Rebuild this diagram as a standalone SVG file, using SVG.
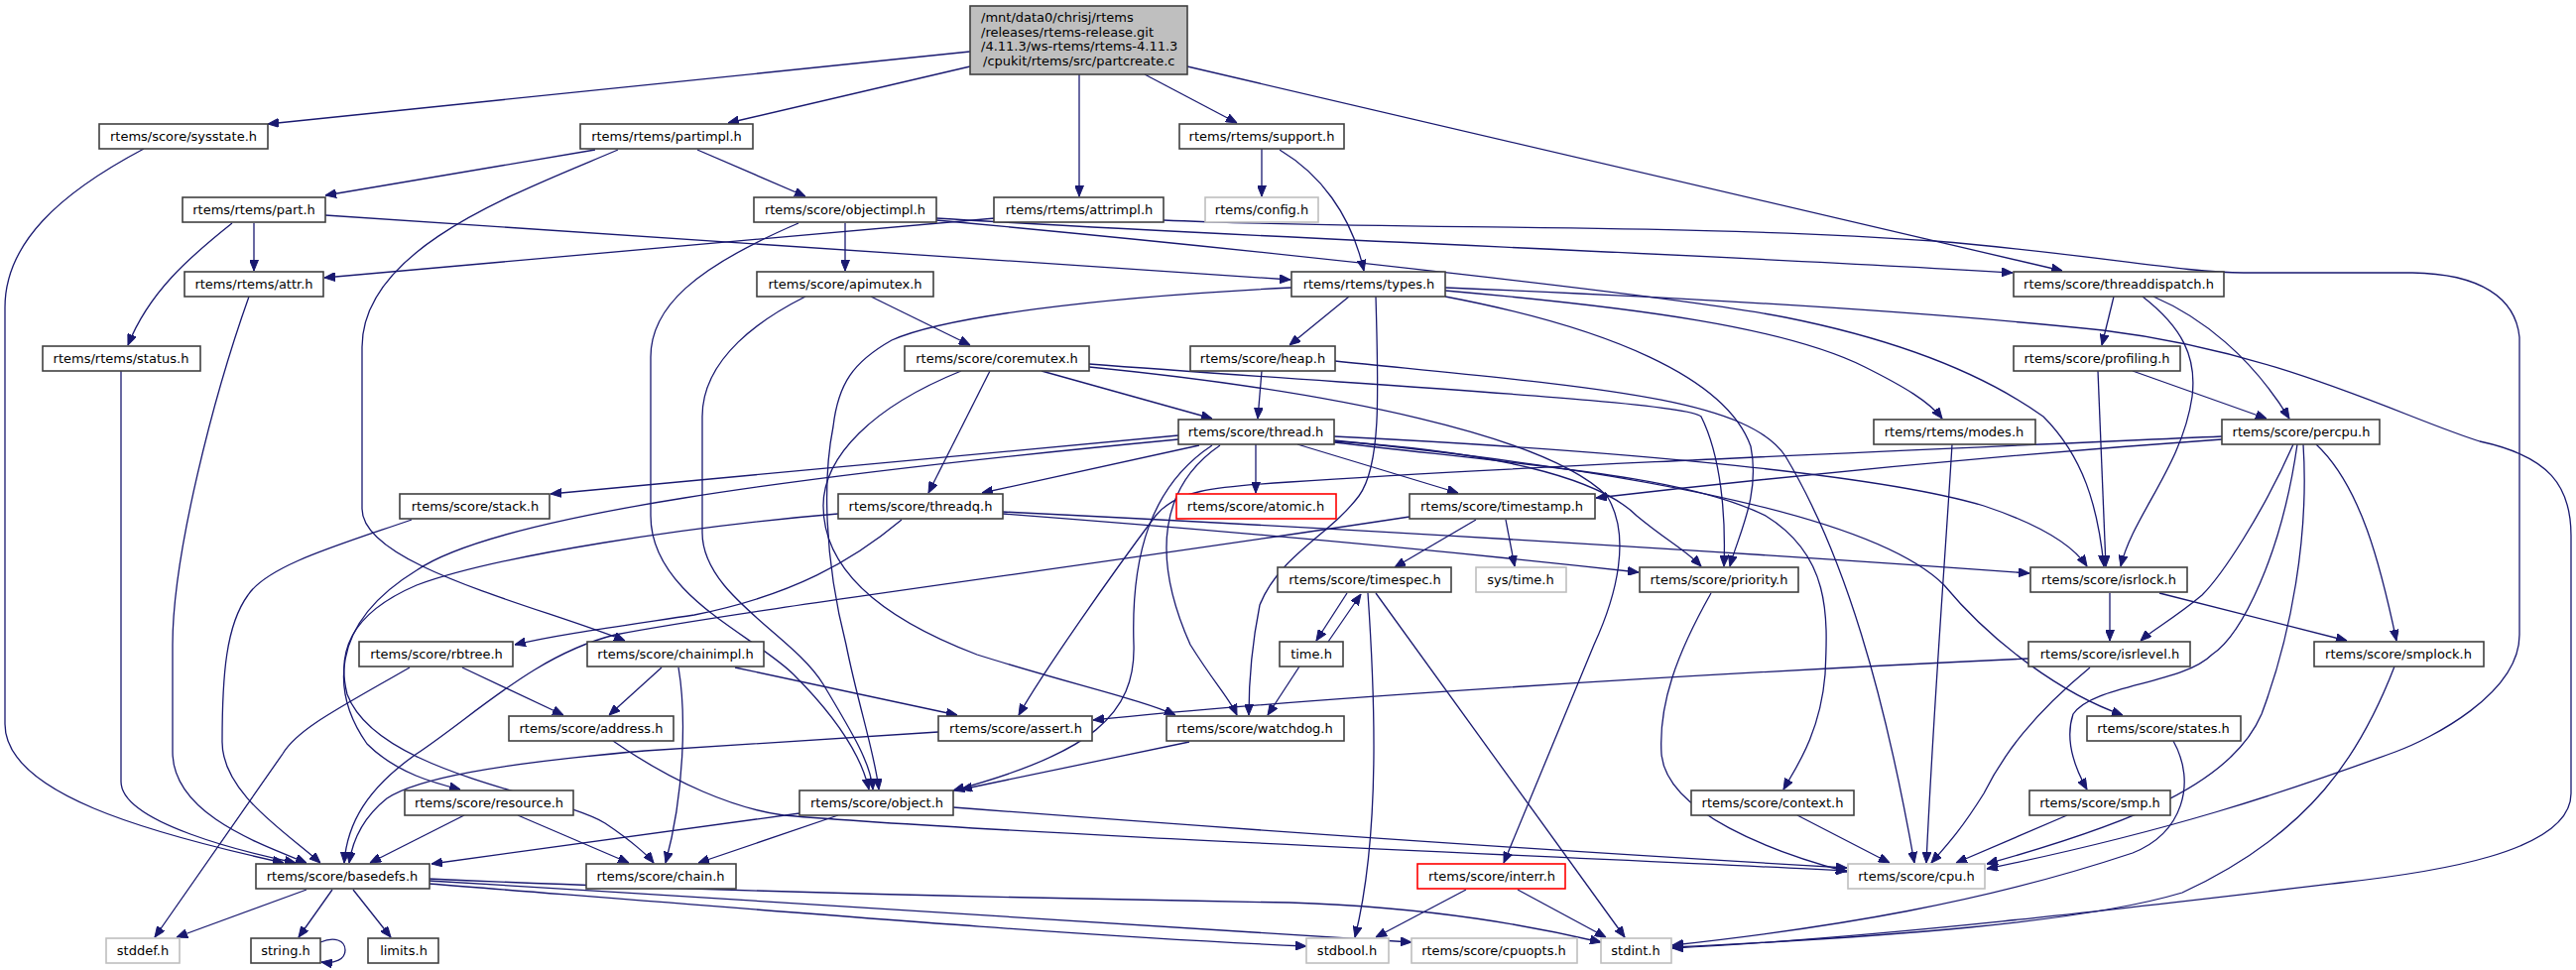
<svg xmlns="http://www.w3.org/2000/svg" width="2597" height="978" viewBox="0 0 2597 978">
<style>
.b{fill:#fff;stroke:#404040;stroke-width:1.6}
.g{fill:#fff;stroke:#bfbfbf;stroke-width:1.6}
.r{fill:#fff;stroke:#ff0000;stroke-width:1.6}
.root{fill:#bfbfbf;stroke:#404040;stroke-width:1.6}
text{font-family:"DejaVu Sans","Liberation Sans",sans-serif;font-size:13px;fill:#000;text-anchor:middle}
.l{text-anchor:start}
#edges path{fill:none;stroke:#191970;stroke-width:1.3;marker-end:url(#ah)}
</style>
<defs>
<marker id="ah" viewBox="0 0 11 9" refX="11" refY="4.5" markerWidth="11" markerHeight="9" markerUnits="userSpaceOnUse" orient="auto">
<path d="M0,0 L11,4.5 L0,9 z" fill="#191970" stroke="#191970" stroke-width="1"/>
</marker>
</defs>
<rect width="2597" height="978" fill="#fff"/>
<g id="edges">
<path d="M978,52 L270,125"/>
<path d="M978,67 L734,124"/>
<path d="M1088,75 L1088,198"/>
<path d="M1154,75 L1247,124"/>
<path d="M1197,67 L2079,273"/>
<path d="M145,150 C60,195 5,245 5,310 L5,730 C5,800 150,840 286,870"/>
<path d="M600,151 L328,197"/>
<path d="M623,151 C520,195 365,250 365,350 L365,513 C365,570 540,610 630,646"/>
<path d="M703,151 L812,198"/>
<path d="M256,225 L256,273"/>
<path d="M234,225 C190,260 150,295 129,348"/>
<path d="M328,217 L1301,282"/>
<path d="M1003,220 L327,280"/>
<path d="M1173,222 C1400,232 1700,225 1950,243 C2100,255 2200,275 2262,275 L2432,275 C2500,276 2536,300 2540,340 L2540,640 C2540,700 2450,745 2415,758 C2300,800 2187,838 2003,876"/>
<path d="M1272,150 L1272,198"/>
<path d="M1290,151 C1330,175 1362,215 1375,273"/>
<path d="M805,225 C700,270 656,310 656,360 L656,520 C656,600 760,640 800,680 C840,720 868,760 876,796"/>
<path d="M852,225 L852,273"/>
<path d="M944,220 C1300,242 1700,255 2029,275"/>
<path d="M944,222 C1300,255 1700,300 1800,320 C1900,340 1990,370 2060,420 C2100,460 2115,510 2121,571"/>
<path d="M251,299 C215,400 174,560 174,650 L174,758 C174,820 260,850 309,870"/>
<path d="M122,374 L122,788 C122,830 250,860 298,870"/>
<path d="M878,299 L978,348"/>
<path d="M812,299 C770,320 708,360 708,420 L708,537 C708,600 800,640 830,690 C860,740 878,770 880,796"/>
<path d="M1360,299 L1300,348"/>
<path d="M1302,290 C1100,300 950,320 899,343 C860,365 845,387 840,430 C830,480 830,560 853,650 C865,710 882,760 886,796"/>
<path d="M1387,299 C1390,400 1392,470 1370,500 C1340,540 1290,560 1270,610 C1262,650 1259,690 1259,721"/>
<path d="M1457,293 C1650,310 1800,330 1880,370 C1920,390 1945,405 1958,422"/>
<path d="M1457,299 C1620,330 1740,380 1765,450 C1775,500 1752,540 1744,571"/>
<path d="M1457,290 C1700,300 1950,315 2120,333 C2300,355 2420,420 2500,445 C2570,460 2592,490 2592,540 L2592,800 C2592,860 2450,880 2360,890 C2150,915 1900,945 1686,956"/>
<path d="M1050,374 L1222,422"/>
<path d="M998,374 L936,497"/>
<path d="M1098,367 C1400,390 1700,405 1715,420 C1735,460 1740,520 1738,571"/>
<path d="M1098,370 C1350,395 1560,440 1620,500 C1645,540 1630,600 1607,650 L1516,870"/>
<path d="M969,374 C880,410 830,460 830,510 C830,570 880,620 985,660 C1080,690 1150,705 1185,721"/>
<path d="M1272,374 L1268,422"/>
<path d="M1346,364 C1600,390 1760,400 1800,460 C1860,560 1900,700 1930,870"/>
<path d="M1188,439 L555,498"/>
<path d="M1188,443 C800,480 500,520 420,575 C330,630 335,700 370,750 C400,780 440,790 464,796"/>
<path d="M1209,449 L990,497"/>
<path d="M1266,448 L1266,497"/>
<path d="M1308,448 L1470,497"/>
<path d="M1345,445 C1500,455 1610,480 1650,520 C1680,545 1700,555 1715,571"/>
<path d="M1345,446 C1550,470 1700,480 1780,520 C1845,560 1843,620 1840,680 C1835,740 1810,775 1798,796"/>
<path d="M1222,449 C1160,490 1140,560 1143,650 C1145,720 1100,760 961,797"/>
<path d="M1230,449 C1170,490 1160,560 1200,650 C1225,690 1240,705 1247,721"/>
<path d="M1345,440 C1650,455 1900,480 2000,510 C2060,530 2090,550 2104,571"/>
<path d="M1345,444 C1700,480 1900,530 1960,590 C2010,650 2080,700 2140,721"/>
<path d="M909,524 C860,565 800,600 700,620 C620,632 560,640 519,650"/>
<path d="M845,518 C700,530 500,560 420,590 C350,620 340,660 350,700 C380,780 560,800 610,830 C640,850 655,865 659,870"/>
<path d="M1011,518 C1300,540 1500,560 1652,577"/>
<path d="M1011,516 C1400,535 1800,560 2046,578"/>
<path d="M1488,524 L1406,572"/>
<path d="M1518,524 L1527,571"/>
<path d="M1421,521 C1100,570 750,615 620,640 C540,660 480,720 420,760 C370,795 350,830 347,870"/>
<path d="M1358,598 L1327,646"/>
<path d="M1339,647 L1372,599"/>
<path d="M1379,598 C1386,700 1392,840 1366,945"/>
<path d="M1387,598 L1638,945"/>
<path d="M1310,672 L1278,721"/>
<path d="M1725,598 C1690,660 1672,710 1675,760 C1680,820 1790,860 1862,879"/>
<path d="M1968,448 C1962,550 1950,700 1942,870"/>
<path d="M2131,299 L2119,348"/>
<path d="M2171,299 C2220,320 2270,360 2308,422"/>
<path d="M2160,299 C2200,330 2215,360 2210,400 C2200,470 2150,520 2138,571"/>
<path d="M2150,374 L2285,422"/>
<path d="M2115,374 L2123,571"/>
<path d="M2240,443 C2000,460 1800,480 1609,502"/>
<path d="M2240,440 C1900,455 1500,472 1300,486 C1220,491 1185,495 1165,520 C1120,580 1050,680 1027,721"/>
<path d="M2312,448 C2280,520 2240,580 2220,600 C2190,625 2170,635 2158,646"/>
<path d="M2316,448 C2300,560 2260,640 2230,660 C2200,690 2110,690 2090,720 C2080,750 2095,780 2104,796"/>
<path d="M2322,448 C2328,540 2310,640 2280,720 C2250,790 2150,830 2003,871"/>
<path d="M2335,448 C2380,490 2400,570 2416,646"/>
<path d="M2127,598 L2127,646"/>
<path d="M2177,598 L2366,646"/>
<path d="M2045,664 C1700,680 1300,705 1102,726"/>
<path d="M2107,673 C2050,720 2020,760 2000,800 C1975,840 1960,855 1947,870"/>
<path d="M2414,672 C2380,760 2330,840 2200,900 C2100,930 1900,945 1686,955"/>
<path d="M2191,747 C2215,790 2200,840 2150,860 C2000,910 1850,935 1686,953"/>
<path d="M2084,822 L1972,870"/>
<path d="M1812,822 L1905,870"/>
<path d="M466,673 L568,721"/>
<path d="M413,673 C340,715 300,735 285,760 L156,945"/>
<path d="M667,673 L614,721"/>
<path d="M684,673 C692,720 690,800 671,870"/>
<path d="M741,673 L965,721"/>
<path d="M618,747 C680,790 740,815 790,822 C1000,840 1600,865 1862,878"/>
<path d="M946,738 L650,757 C500,770 420,785 390,805 C365,825 355,850 352,870"/>
<path d="M1199,748 L969,796"/>
<path d="M468,822 L373,870"/>
<path d="M522,822 L634,870"/>
<path d="M806,820 L435,871"/>
<path d="M845,822 L704,870"/>
<path d="M961,814 C1300,840 1600,860 1862,875"/>
<path d="M1478,897 L1387,945"/>
<path d="M1530,897 L1619,945"/>
<path d="M415,524 C340,550 270,570 250,600 C228,630 224,680 224,748 C224,800 290,840 323,870"/>
<path d="M309,897 L178,945"/>
<path d="M335,897 L301,945"/>
<path d="M356,897 L394,945"/>
<path d="M432,891 C800,920 1100,945 1317,954"/>
<path d="M432,888 C800,910 1200,935 1423,950"/>
<path d="M432,886 C700,898 1000,905 1300,910 C1450,915 1550,935 1614,950"/>
<path d="M323,950 C337,944 348,948 348,958 C348,967 338,972 324,970"/>
</g>
<g id="n_root"><rect class="root" x="978" y="6" width="219" height="69"/><text class="l" x="989" y="22">/mnt/data0/chrisj/rtems</text><text class="l" x="989" y="37">/releases/rtems-release.git</text><text class="l" x="989" y="51">/4.11.3/ws-rtems/rtems-4.11.3</text><text class="l" x="991" y="66">/cpukit/rtems/src/partcreate.c</text></g>
<g id="n_sysstate"><rect class="b" x="100" y="125" width="170" height="25"/><text x="185" y="142">rtems/score/sysstate.h</text></g>
<g id="n_partimpl"><rect class="b" x="585" y="125" width="174" height="25"/><text x="672" y="142">rtems/rtems/partimpl.h</text></g>
<g id="n_support"><rect class="b" x="1189" y="125" width="166" height="25"/><text x="1272" y="142">rtems/rtems/support.h</text></g>
<g id="n_part"><rect class="b" x="184" y="199" width="144" height="25"/><text x="256" y="216">rtems/rtems/part.h</text></g>
<g id="n_objectimpl"><rect class="b" x="760" y="199" width="184" height="25"/><text x="852" y="216">rtems/score/objectimpl.h</text></g>
<g id="n_attrimpl"><rect class="b" x="1002" y="199" width="171" height="25"/><text x="1088" y="216">rtems/rtems/attrimpl.h</text></g>
<g id="n_config"><rect class="g" x="1215" y="199" width="114" height="25"/><text x="1272" y="216">rtems/config.h</text></g>
<g id="n_attr"><rect class="b" x="186" y="274" width="140" height="25"/><text x="256" y="291">rtems/rtems/attr.h</text></g>
<g id="n_apimutex"><rect class="b" x="763" y="274" width="178" height="25"/><text x="852" y="291">rtems/score/apimutex.h</text></g>
<g id="n_types"><rect class="b" x="1302" y="274" width="155" height="25"/><text x="1380" y="291">rtems/rtems/types.h</text></g>
<g id="n_threaddispatch"><rect class="b" x="2030" y="274" width="212" height="25"/><text x="2136" y="291">rtems/score/threaddispatch.h</text></g>
<g id="n_status"><rect class="b" x="43" y="349" width="159" height="25"/><text x="122" y="366">rtems/rtems/status.h</text></g>
<g id="n_coremutex"><rect class="b" x="912" y="349" width="186" height="25"/><text x="1005" y="366">rtems/score/coremutex.h</text></g>
<g id="n_heap"><rect class="b" x="1200" y="349" width="146" height="25"/><text x="1273" y="366">rtems/score/heap.h</text></g>
<g id="n_profiling"><rect class="b" x="2030" y="349" width="168" height="25"/><text x="2114" y="366">rtems/score/profiling.h</text></g>
<g id="n_thread"><rect class="b" x="1188" y="423" width="157" height="25"/><text x="1266" y="440">rtems/score/thread.h</text></g>
<g id="n_modes"><rect class="b" x="1889" y="423" width="163" height="25"/><text x="1970" y="440">rtems/rtems/modes.h</text></g>
<g id="n_percpu"><rect class="b" x="2240" y="423" width="159" height="25"/><text x="2320" y="440">rtems/score/percpu.h</text></g>
<g id="n_stack"><rect class="b" x="403" y="498" width="151" height="25"/><text x="479" y="515">rtems/score/stack.h</text></g>
<g id="n_threadq"><rect class="b" x="845" y="498" width="166" height="25"/><text x="928" y="515">rtems/score/threadq.h</text></g>
<g id="n_atomic"><rect class="r" x="1186" y="498" width="161" height="25"/><text x="1266" y="515">rtems/score/atomic.h</text></g>
<g id="n_timestamp"><rect class="b" x="1421" y="498" width="187" height="25"/><text x="1514" y="515">rtems/score/timestamp.h</text></g>
<g id="n_timespec"><rect class="b" x="1288" y="572" width="175" height="25"/><text x="1376" y="589">rtems/score/timespec.h</text></g>
<g id="n_systime"><rect class="g" x="1488" y="572" width="91" height="25"/><text x="1533" y="589">sys/time.h</text></g>
<g id="n_priority"><rect class="b" x="1653" y="572" width="160" height="25"/><text x="1733" y="589">rtems/score/priority.h</text></g>
<g id="n_isrlock"><rect class="b" x="2047" y="572" width="158" height="25"/><text x="2126" y="589">rtems/score/isrlock.h</text></g>
<g id="n_rbtree"><rect class="b" x="362" y="647" width="155" height="25"/><text x="440" y="664">rtems/score/rbtree.h</text></g>
<g id="n_chainimpl"><rect class="b" x="592" y="647" width="178" height="25"/><text x="681" y="664">rtems/score/chainimpl.h</text></g>
<g id="n_time"><rect class="b" x="1290" y="647" width="64" height="25"/><text x="1322" y="664">time.h</text></g>
<g id="n_isrlevel"><rect class="b" x="2045" y="647" width="163" height="25"/><text x="2127" y="664">rtems/score/isrlevel.h</text></g>
<g id="n_smplock"><rect class="b" x="2333" y="647" width="171" height="25"/><text x="2418" y="664">rtems/score/smplock.h</text></g>
<g id="n_address"><rect class="b" x="513" y="722" width="166" height="25"/><text x="596" y="739">rtems/score/address.h</text></g>
<g id="n_assert"><rect class="b" x="946" y="722" width="155" height="25"/><text x="1024" y="739">rtems/score/assert.h</text></g>
<g id="n_watchdog"><rect class="b" x="1176" y="722" width="179" height="25"/><text x="1265" y="739">rtems/score/watchdog.h</text></g>
<g id="n_states"><rect class="b" x="2104" y="722" width="155" height="25"/><text x="2181" y="739">rtems/score/states.h</text></g>
<g id="n_resource"><rect class="b" x="408" y="797" width="170" height="25"/><text x="493" y="814">rtems/score/resource.h</text></g>
<g id="n_object"><rect class="b" x="806" y="797" width="155" height="25"/><text x="884" y="814">rtems/score/object.h</text></g>
<g id="n_context"><rect class="b" x="1705" y="797" width="164" height="25"/><text x="1787" y="814">rtems/score/context.h</text></g>
<g id="n_smp"><rect class="b" x="2046" y="797" width="142" height="25"/><text x="2117" y="814">rtems/score/smp.h</text></g>
<g id="n_basedefs"><rect class="b" x="258" y="871" width="175" height="25"/><text x="345" y="888">rtems/score/basedefs.h</text></g>
<g id="n_chain"><rect class="b" x="591" y="871" width="151" height="25"/><text x="666" y="888">rtems/score/chain.h</text></g>
<g id="n_interr"><rect class="r" x="1429" y="871" width="149" height="25"/><text x="1504" y="888">rtems/score/interr.h</text></g>
<g id="n_cpu"><rect class="g" x="1863" y="871" width="138" height="25"/><text x="1932" y="888">rtems/score/cpu.h</text></g>
<g id="n_stddef"><rect class="g" x="107" y="946" width="74" height="25"/><text x="144" y="963">stddef.h</text></g>
<g id="n_string"><rect class="b" x="253" y="946" width="70" height="25"/><text x="288" y="963">string.h</text></g>
<g id="n_limits"><rect class="b" x="371" y="946" width="71" height="25"/><text x="407" y="963">limits.h</text></g>
<g id="n_stdbool"><rect class="g" x="1317" y="946" width="83" height="25"/><text x="1358" y="963">stdbool.h</text></g>
<g id="n_cpuopts"><rect class="g" x="1423" y="946" width="167" height="25"/><text x="1506" y="963">rtems/score/cpuopts.h</text></g>
<g id="n_stdint"><rect class="g" x="1614" y="946" width="71" height="25"/><text x="1649" y="963">stdint.h</text></g>
</svg>
